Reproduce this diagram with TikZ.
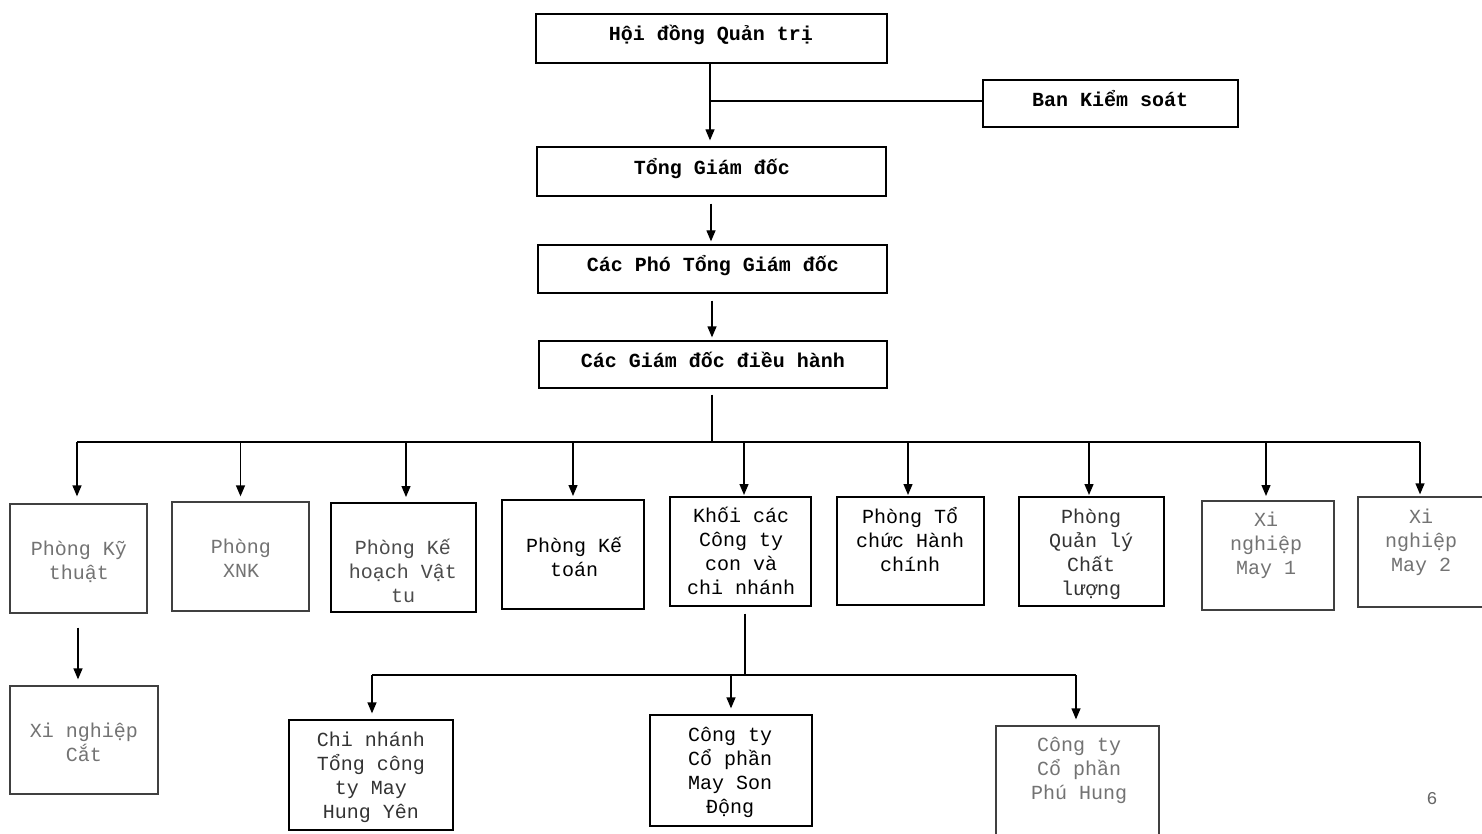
\documentclass[tikz,border=0pt]{standalone}
\usepackage{fontspec}
\newfontfamily\monofam{Liberation Mono}
\usetikzlibrary{arrows.meta}
\begin{document}
\begin{tikzpicture}[x=1pt,y=-1pt,
  box/.style={draw, line width=1.3pt, inner sep=0pt, fill=white},
  fbox/.style={box, draw=black!75},
  ttop/.style={font=\monofam\bfseries\fontsize{20}{24}\selectfont, align=center, inner sep=0pt},
  txt/.style={font=\monofam\fontsize{20}{24}\selectfont, align=center, inner sep=0pt},
  ftxt/.style={txt, text=black!55},
  conn/.style={line width=1.3pt},
  arr/.style={conn, -{Triangle[width=9pt,length=11pt]}},
]
\useasboundingbox (0,0) rectangle (1482,834);
\fill[white] (0,0) rectangle (1482,834);

% top chain
\node[box, minimum width=351pt, minimum height=49pt] (hdqt) at (711.5,38.5) {};
\node[ttop] (hdqtT) at (711,35) {Hội đồng Quản trị};
\node[box, minimum width=255pt, minimum height=47pt] (bks) at (1110.5,103.5) {};
\node[ttop] (bksT) at (1110,99) {Ban Kiểm soát};
\node[box, minimum width=349pt, minimum height=49pt] (tgd) at (711.5,171.5) {};
\node[ttop] (tgdT) at (712,169) {Tổng Giám đốc};
\node[box, minimum width=349pt, minimum height=48pt] (pho) at (712.5,269) {};
\node[ttop] (phoT) at (713,266) {Các Phó Tổng Giám đốc};
\node[box, minimum width=348pt, minimum height=47pt] (gddh) at (713,364.5) {};
\node[ttop] (gddhT) at (713,360) {Các Giám đốc điều hành};

\draw[arr, shorten >=6pt] (hdqt.south -| 710,0) -- (tgd.north -| 710,0);
\draw[conn] (bks.west |- 0,101) -- (710,101);
\draw[arr, shorten <=7pt, shorten >=3pt] (tgd.south -| 711,0) -- (pho.north -| 711,0);
\draw[arr, shorten <=7pt, shorten >=3pt] (pho.south -| 712,0) -- (gddh.north -| 712,0);

% level 2 boxes
\node[fbox, minimum width=137pt, minimum height=109pt] (b1) at (78.5,558.5) {};
\node[ftxt] (b1T) at (79,562) {Phòng Kỹ\\thuật};
\node[fbox, minimum width=137pt, minimum height=109pt] (b2) at (240.5,556.5) {};
\node[ftxt] (b2T) at (241,558) {Phòng\\XNK};
\node[box, minimum width=145pt, minimum height=109pt] (b3) at (403.5,557.5) {};
\node[ftxt, text=black!70] (b3T) at (403,571) {Phòng Kế\\hoạch Vật\\tu};
\node[box, minimum width=142pt, minimum height=109pt] (b4) at (573,554.5) {};
\node[txt] (b4T) at (574,557) {Phòng Kế\\toán};
\node[box, minimum width=141pt, minimum height=109pt] (b5) at (740.5,551.5) {};
\node[txt] (b5T) at (741,551) {Khối các\\Công ty\\con và\\chi nhánh};
\node[box, minimum width=147pt, minimum height=108pt] (b6) at (910.5,551) {};
\node[txt] (b6T) at (910,540) {Phòng Tổ\\chức Hành\\chính};
\node[box, minimum width=145pt, minimum height=109pt] (b7) at (1091.5,551.5) {};
\node[txt, text=black!80] (b7T) at (1091,554) {Phòng\\Quản lý\\Chất\\lượng};
\node[fbox, minimum width=132pt, minimum height=109pt] (b8) at (1268,555.5) {};
\node[ftxt] (b8T) at (1266,545) {Xi\\nghiệp\\May 1};
\node[fbox, minimum width=132pt, minimum height=110pt] (b9) at (1424,552) {};
\node[ftxt] (b9T) at (1421,542) {Xi\\nghiệp\\May 2};

% bus
\coordinate (busC) at (712,442);
\coordinate (busL) at (77,442);
\coordinate (busR) at (1420,442);
\draw[conn, shorten <=6pt] (gddh.south -| busC) -- (busC);
\draw[conn] (busL) -- (busR);
\draw[arr, shorten >=7pt] (busL) -- (busL |- b1.north);
\draw[arr, shorten >=5pt] (b2.north |- busC) -- (b2.north);
\draw[arr, shorten >=6pt] (406,442) -- (406,503);
\draw[arr, shorten >=4pt] (573,442) -- (573,500);
\draw[arr, shorten >=2pt] (744,442) -- (744,497);
\draw[arr, shorten >=2pt] (908,442) -- (908,497);
\draw[arr, shorten >=2pt] (1089,442) -- (1089,497);
\draw[arr, shorten >=5pt] (1266,442) -- (1266,501);
\draw[arr, shorten >=2pt] (busR) -- (busR |- b9.north);

% Ky thuat -> Xi nghiep Cat
\node[fbox, minimum width=148pt, minimum height=108pt] (xnc) at (84,740) {};
\node[ftxt] (xncT) at (84,742) {Xi nghiệp\\Cắt};
\draw[arr, shorten <=14pt, shorten >=6pt] (b1.south -| 78,0) -- (xnc.north -| 78,0);

% level 3
\node[box, minimum width=164pt, minimum height=110pt] (cn) at (371,775) {};
\node[txt, text=black!80] (cnT) at (371,777) {Chi nhánh\\Tổng công\\ty May\\Hung Yên};
\node[box, minimum width=162pt, minimum height=111pt] (sd) at (731,770.5) {};
\node[txt] (sdT) at (730,772) {Công ty\\Cổ phần\\May Son\\Động};
\node[fbox, minimum width=163pt, minimum height=120pt] (ph) at (1077.5,786) {};
\node[ftxt] (phT) at (1079,770) {Công ty\\Cổ phần\\Phú Hung};

\coordinate (sbC) at (745,675);
\coordinate (sbL) at (372,675);
\coordinate (sbR) at (1076,675);
\draw[conn, shorten <=7pt] (b5.south -| sbC) -- (sbC);
\draw[conn] (sbL) -- (sbR);
\draw[arr, shorten >=6pt] (sbL) -- (sbL |- cn.north);
\draw[arr, shorten >=6pt] (731,675) -- (sd.north -| 731,0);
\draw[arr, shorten >=6pt] (sbR) -- (sbR |- ph.north);

% page number
\node[font=\monofam\fontsize{18}{20}\selectfont, text=black!60] (pg) at (1432,799) {6};
\end{tikzpicture}
\end{document}
